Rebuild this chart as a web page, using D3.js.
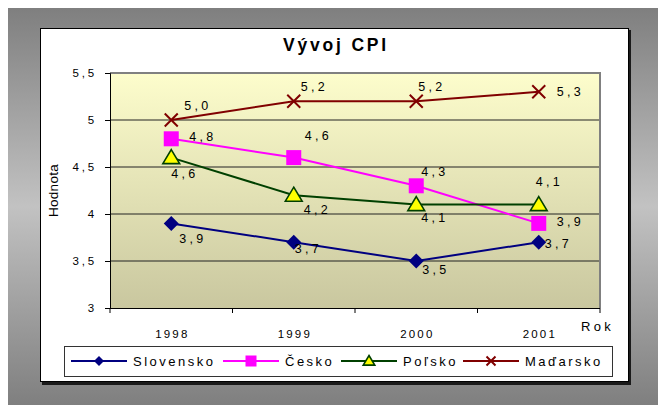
<!DOCTYPE html>
<html>
<head>
<meta charset="utf-8">
<script src="https://cdn.jsdelivr.net/npm/d3@7"></script>
<style>
  body { margin: 0; background: #fff; }
  text { font-family: "Liberation Sans", Arial, sans-serif; fill: #000; }
</style>
</head>
<body>
<svg id="chart"></svg>
<script>
let years = ['1998', '1999', '2000', '2001']
let yTicks = [3, 3.5, 4, 4.5, 5, 5.5]
let slovensko = [3.9, 3.7, 3.5, 3.7]
let cesko = [4.8, 4.6, 4.3, 3.9]
let polsko = [4.6, 4.2, 4.1, 4.1]
let madarsko = [5.0, 5.2, 5.2, 5.3]

// where each value label sits relative to its point (dx, dy of text centre)
let labelShift = {
    Slovensko: [[20, 15], [13, 6], [18, 8], [18, 1]],
    'Česko': [[30, -2], [23, -22], [17, -14], [30, -2]],
    'Poľsko': [[12, 16], [22, 14], [17, 13], [9, -23]],
    'Maďarsko': [[25, -15], [19, -15], [14, -15], [30, 0]],
}

let series = [
    { name: 'Slovensko', values: slovensko, color: '#000080', marker: 'diamond' },
    { name: 'Česko', values: cesko, color: '#ff00ff', marker: 'square' },
    { name: 'Poľsko', values: polsko, color: '#004000', marker: 'triangle' },
    { name: 'Maďarsko', values: madarsko, color: '#800000', marker: 'cross' },
]

let W = 658, H = 405
let svg = d3.select('#chart').attr('width', W).attr('height', H)
let defs = svg.append('defs')

let bg = defs.append('linearGradient').attr('id', 'bg')
    .attr('x1', 0).attr('y1', 0).attr('x2', 0).attr('y2', 1)
bg.append('stop').attr('offset', '0%').attr('stop-color', '#7f7f7f')
bg.append('stop').attr('offset', '50%').attr('stop-color', '#c2c2c2')
bg.append('stop').attr('offset', '100%').attr('stop-color', '#7f7f7f')

let plotBg = defs.append('linearGradient').attr('id', 'plotBg')
    .attr('x1', 0).attr('y1', 0).attr('x2', 0).attr('y2', 1)
plotBg.append('stop').attr('offset', '0%').attr('stop-color', '#fdfdcc')
plotBg.append('stop').attr('offset', '100%').attr('stop-color', '#c9c79f')

// outer grey frame
svg.append('rect').attr('x', 8).attr('y', 8).attr('width', W - 8).attr('height', H - 8)
    .attr('fill', 'url(#bg)')

// chart area with shadow
svg.append('rect').attr('x', 42).attr('y', 30).attr('width', 589).attr('height', 355)
    .attr('fill', '#1a1a1a')
svg.append('rect').attr('x', 40.5).attr('y', 28.5).attr('width', 588).attr('height', 353)
    .attr('fill', '#fff').attr('stroke', '#000').attr('stroke-width', 1)

let plot = { left: 110, right: 600, top: 73, bottom: 308 }

let x = d3.scaleBand().domain(years).range([plot.left, plot.right])
let y = d3.scaleLinear().domain([3, 5.5]).range([plot.bottom, plot.top])
let cx = d => x(d) + x.bandwidth() / 2

svg.append('rect')
    .attr('x', plot.left).attr('y', plot.top)
    .attr('width', plot.right - plot.left).attr('height', plot.bottom - plot.top)
    .attr('fill', 'url(#plotBg)')

// gridlines
svg.append('g').selectAll('line')
    .data(yTicks.filter(t => t > 3 && t < 5.5))
    .join('line')
    .attr('x1', plot.left).attr('x2', plot.right)
    .attr('y1', d => y(d)).attr('y2', d => y(d))
    .attr('stroke', '#222').attr('stroke-width', 1)

// grey top/right border of plot
svg.append('path')
    .attr('d', `M${plot.left},${plot.top}H${plot.right}V${plot.bottom}`)
    .attr('fill', 'none').attr('stroke', '#808080').attr('stroke-width', 2)

let fmt = d => String(d).replace('.', ',')
let font = '"Liberation Sans", Arial, sans-serif'

// y axis
let yAxis = svg.append('g')
    .attr('transform', `translate(${plot.left},0)`)
    .call(d3.axisLeft(y).tickValues(yTicks).tickFormat(fmt).tickSize(5).tickPadding(8))
yAxis.select('.domain').attr('stroke', '#000')
yAxis.selectAll('.tick line').attr('stroke', '#000')
yAxis.selectAll('text')
    .attr('font-size', 11.5).style('letter-spacing', '2.8px')
    .attr('font-family', font)

// x axis
let xAxis = svg.append('g')
    .attr('transform', `translate(0,${plot.bottom})`)
    .call(d3.axisBottom(x).tickSize(0).tickPadding(22))
xAxis.select('.domain').attr('stroke', '#000').attr('d', `M${plot.left},0.5H${plot.right}`)
xAxis.selectAll('text')
    .attr('font-size', 11.5).style('letter-spacing', '2.2px')
    .attr('font-family', font)
    .attr('dx', '1.1px')
xAxis.selectAll('.boundary')
    .data(years.map(d => x(d)).concat([plot.right]))
    .join('line')
    .attr('x1', d => d).attr('x2', d => d)
    .attr('y1', 0).attr('y2', 5)
    .attr('stroke', '#000')

svg.append('text')
    .attr('x', 581).attr('y', 331)
    .attr('font-size', 13).style('letter-spacing', '3.3px')
    .text('Rok')

svg.append('text')
    .attr('transform', `translate(58,${(plot.top + plot.bottom) / 2}) rotate(-90)`)
    .attr('text-anchor', 'middle')
    .attr('font-size', 13.5)
    .style('letter-spacing', '0.3px')
    .text('Hodnota')

svg.append('text')
    .attr('x', 336).attr('y', 51)
    .attr('text-anchor', 'middle')
    .attr('font-size', 17.5).attr('font-weight', 'bold')
    .style('letter-spacing', '2.8px')
    .text('Vývoj CPI')

function drawMarker(g, type, color, s) {
    if (type === 'diamond') {
        g.append('path').attr('d', `M0,${-s}L${s},0L0,${s}L${-s},0Z`)
            .attr('fill', color)
    } else if (type === 'square') {
        g.append('rect').attr('x', -s).attr('y', -s).attr('width', 2 * s).attr('height', 2 * s)
            .attr('fill', color)
    } else if (type === 'triangle') {
        g.append('path').attr('d', `M0,${-s}L${s * 1.05},${s * 0.75}L${-s * 1.05},${s * 0.75}Z`)
            .attr('fill', '#ffff00').attr('stroke', color).attr('stroke-width', 1.6)
    } else {
        g.append('path').attr('d', `M${-s},${-s}L${s},${s}M${s},${-s}L${-s},${s}`)
            .attr('stroke', color).attr('stroke-width', 2).attr('fill', 'none')
    }
}

let markerSize = { diamond: 7.5, square: 7.5, triangle: 8, cross: 6.5 }
let line = d3.line().x(d => cx(d.year)).y(d => y(d.v))

series.forEach(s => {
    let pts = s.values.map((v, i) => ({ year: years[i], v: v, i: i }))
    svg.append('path').datum(pts)
        .attr('d', line)
        .attr('fill', 'none').attr('stroke', s.color).attr('stroke-width', 2)
    svg.append('g').selectAll('g').data(pts).join('g')
        .attr('transform', d => `translate(${cx(d.year)},${y(d.v)})`)
        .each(function() { drawMarker(d3.select(this), s.marker, s.color, markerSize[s.marker]) })
})

// value labels
series.forEach(s => {
    svg.append('g').selectAll('text').data(s.values).join('text')
        .attr('x', (d, i) => cx(years[i]) + labelShift[s.name][i][0] + 1.6)
        .attr('y', (d, i) => y(d) + labelShift[s.name][i][1])
        .attr('dy', '0.36em')
        .attr('text-anchor', 'middle')
        .attr('font-size', 12.5).style('letter-spacing', '3.2px')
        .text(d => d.toFixed(1).replace('.', ','))
})

// legend
let legend = svg.append('g')
legend.append('rect').attr('x', 64.5).attr('y', 346.5).attr('width', 548).attr('height', 30)
    .attr('fill', '#fff').attr('stroke', '#333').attr('stroke-width', 1)
let legendX = [71, 223, 341, 463]
let legendMarker = { diamond: 5, square: 5.5, triangle: 5.5, cross: 4.5 }
series.forEach((s, i) => {
    let g = legend.append('g').attr('transform', `translate(${legendX[i]},361)`)
    g.append('line').attr('x1', 0).attr('x2', 56).attr('stroke', s.color).attr('stroke-width', 2)
    let m = g.append('g').attr('transform', 'translate(28,0)')
    drawMarker(m, s.marker, s.color, legendMarker[s.marker])
    g.append('text').attr('x', 62).attr('dy', '0.36em')
        .attr('font-size', 13).style('letter-spacing', '2.5px')
        .text(s.name)
})
</script>
</body>
</html>
